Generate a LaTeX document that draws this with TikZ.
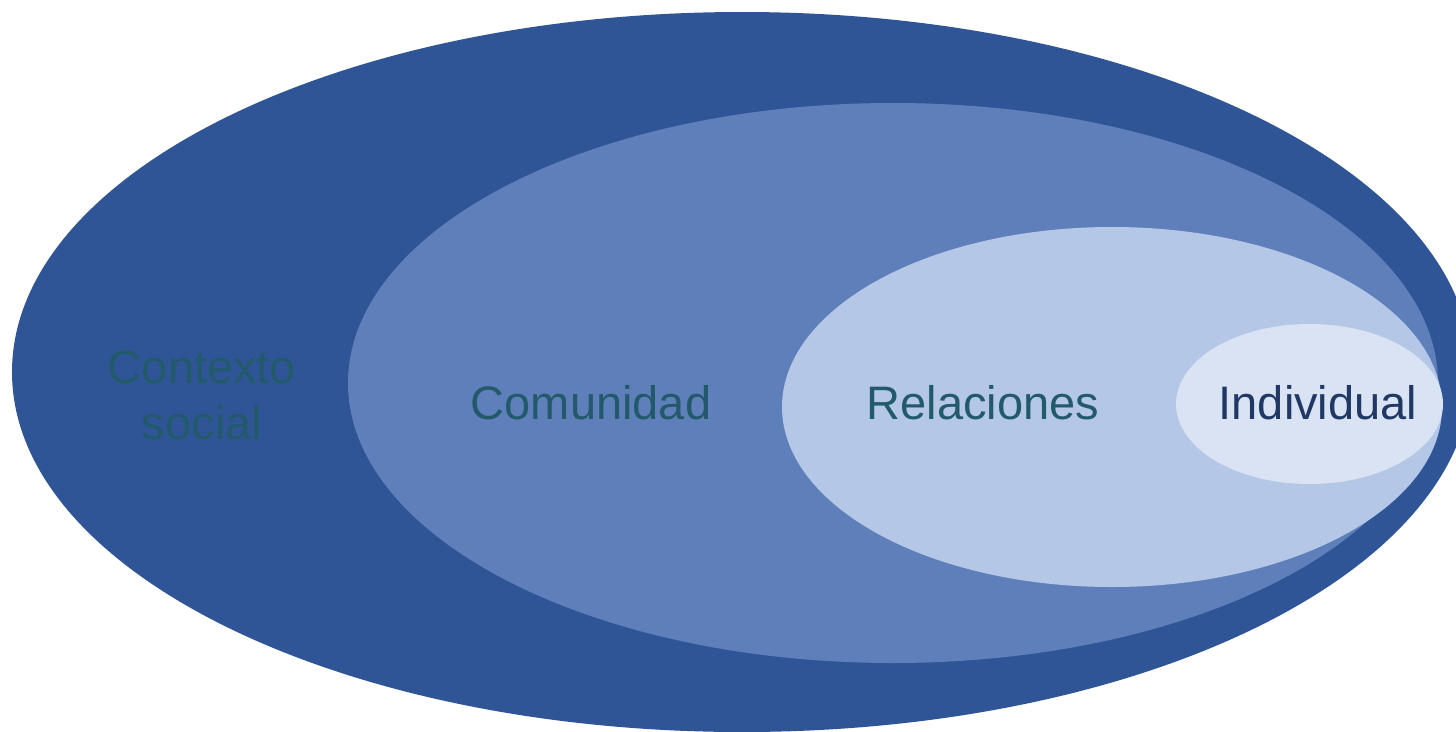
\documentclass[tikz,border=0pt]{standalone}
\usepackage{fontspec}
\setmainfont{Liberation Sans}
\definecolor{cOuter}{HTML}{2F5597}
\definecolor{cComm}{HTML}{5F7FBA}
\definecolor{cRel}{HTML}{B4C7E7}
\definecolor{cInd}{HTML}{DAE3F3}
\definecolor{cTeal}{HTML}{225A6B}
\definecolor{cNavy}{HTML}{1F3864}
\tikzset{lbl/.style={anchor=base, inner sep=0pt, font=\fontsize{47}{56}\selectfont}}
\begin{document}
\begin{tikzpicture}[x=1pt,y=-1pt]
\useasboundingbox (0,0) rectangle (1456,731);
\clip (0,0) rectangle (1456,731);
\fill[cOuter] (742,372) ellipse [x radius=730, y radius=360];
\fill[cComm] (893,383) ellipse [x radius=545, y radius=280];
\fill[cRel] (1112,407) ellipse [x radius=330, y radius=180];
\fill[cInd] (1309.5,404) ellipse [x radius=133.5, y radius=80];
\node[lbl, text=cTeal] (ctx1) at (202,383) {Contexto};
\node[lbl, text=cTeal] (ctx2) at (202,439) {social};
\node[lbl, text=cTeal] (com) at (591,419) {Comunidad};
\node[lbl, text=cTeal] (rel) at (983,419) {Relaciones};
\node[lbl, text=cNavy] (ind) at (1318,419) {Individual};
\end{tikzpicture}
\end{document}
